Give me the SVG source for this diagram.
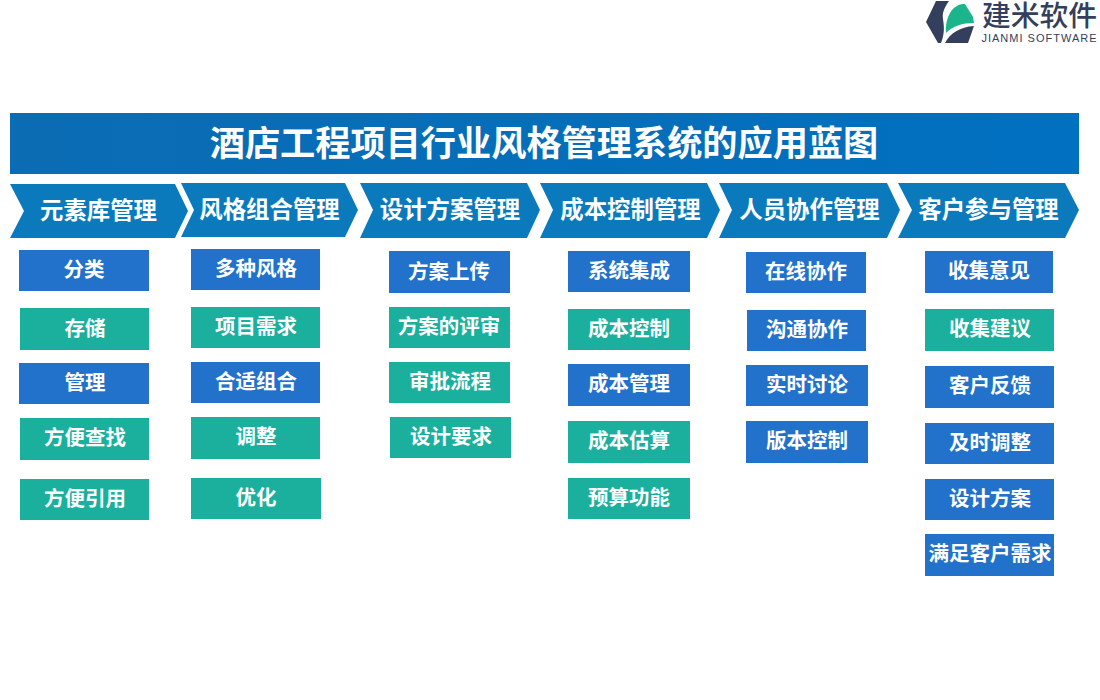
<svg xmlns="http://www.w3.org/2000/svg" width="1100" height="700" viewBox="0 0 1100 700">
<defs>
<linearGradient id="tg" x1="0" y1="0" x2="1" y2="0"><stop offset="0" stop-color="#0b6cb3"/><stop offset="1" stop-color="#0070c0"/></linearGradient>
<style>
text{font-family:"Noto Sans CJK SC","Liberation Sans",sans-serif;font-weight:700;fill:#fff;text-anchor:middle}
.t{font-size:35.2px}
.h{font-size:23.4px}
.i{font-size:20.5px}
.c{fill:#0b7abd}
.b{fill:#2272cc}
.g{fill:#1bb09d}
</style>
</defs>
<rect width="1100" height="700" fill="#fff"/>
<g id="logo">
<path d="M936 1H949C944 8 942 13 943 19C944 26 945 33 941 43H938L926 22Z" fill="#333f5c"/>
<path d="M946 33C945 22 949 10 957 6C960 4 963 4 965 4L973 17L974 23C962 23 953 26 946 33Z" fill="#1bb58c"/>
<path d="M945 43C950 33 960 27 974 26L968 43Z" fill="#333f5c"/>
<text x="1039.500" y="26" style="font-size:28.800px;font-weight:500;fill:#333f5c">建米软件</text>
<text x="1039.500" y="42" style="font-size:11px;font-weight:400;fill:#333f5c;font-family:'Liberation Sans',sans-serif;letter-spacing:1px">JIANMI SOFTWARE</text>
</g>
<g id="title"><rect x="10" y="113" width="1069" height="61" fill="url(#tg)"/><text class="t" x="544" y="155.500">酒店工程项目行业风格管理系统的应用蓝图</text></g>
<g id="headers">
<g id="h1"><polygon class="c" points="10,184 175,184 188,211 175,238 10,238 24,211"/><text class="h" x="98.500" y="219">元素库管理</text></g>
<g id="h2"><polygon class="c" points="181,183 345,183 358,210 345,237 181,237 194,210"/><text class="h" x="269.500" y="218">风格组合管理</text></g>
<g id="h3"><polygon class="c" points="360,183 527,183 540,210 527,238 360,238 373,210"/><text class="h" x="450" y="218">设计方案管理</text></g>
<g id="h4"><polygon class="c" points="540,183 707,183 720,210 707,238 540,238 553,210"/><text class="h" x="630.500" y="218">成本控制管理</text></g>
<g id="h5"><polygon class="c" points="719,183 887,183 900,210 887,238 719,238 732,210"/><text class="h" x="809.500" y="218">人员协作管理</text></g>
<g id="h6"><polygon class="c" points="898,183 1065,183 1079,210 1065,238 898,238 912,210"/><text class="h" x="988.500" y="218">客户参与管理</text></g>
</g>
<g id="col1">
<g id="n11"><rect class="b" x="19" y="250" width="130" height="41"/><text class="i" x="84" y="277">分类</text></g>
<g id="n12"><rect class="g" x="20" y="308" width="129" height="42"/><text class="i" x="85" y="336">存储</text></g>
<g id="n13"><rect class="b" x="19" y="363" width="130" height="41"/><text class="i" x="85" y="390">管理</text></g>
<g id="n14"><rect class="g" x="20" y="418" width="129" height="42"/><text class="i" x="85" y="445">方便查找</text></g>
<g id="n15"><rect class="g" x="20" y="479" width="129" height="41"/><text class="i" x="85" y="506">方便引用</text></g>
</g>
<g id="col2">
<g id="n21"><rect class="b" x="191" y="249" width="129" height="41"/><text class="i" x="256" y="276">多种风格</text></g>
<g id="n22"><rect class="g" x="191" y="307" width="129" height="41"/><text class="i" x="256" y="334">项目需求</text></g>
<g id="n23"><rect class="b" x="191" y="362" width="129" height="41"/><text class="i" x="256" y="389">合适组合</text></g>
<g id="n24"><rect class="g" x="191" y="417" width="129" height="42"/><text class="i" x="256" y="444">调整</text></g>
<g id="n25"><rect class="g" x="191" y="478" width="130" height="41"/><text class="i" x="256" y="505">优化</text></g>
</g>
<g id="col3">
<g id="n31"><rect class="b" x="389" y="251" width="121" height="42"/><text class="i" x="449" y="279">方案上传</text></g>
<g id="n32"><rect class="g" x="389" y="307" width="121" height="41"/><text class="i" x="449" y="334">方案的评审</text></g>
<g id="n33"><rect class="g" x="389" y="362" width="121" height="41"/><text class="i" x="450" y="389">审批流程</text></g>
<g id="n34"><rect class="g" x="390" y="417" width="121" height="41"/><text class="i" x="451" y="444">设计要求</text></g>
</g>
<g id="col4">
<g id="n41"><rect class="b" x="568" y="251" width="122" height="41"/><text class="i" x="629" y="278">系统集成</text></g>
<g id="n42"><rect class="g" x="568" y="309" width="122" height="41"/><text class="i" x="629" y="336">成本控制</text></g>
<g id="n43"><rect class="b" x="568" y="364" width="122" height="42"/><text class="i" x="629" y="391">成本管理</text></g>
<g id="n44"><rect class="g" x="568" y="421" width="122" height="42"/><text class="i" x="629" y="448">成本估算</text></g>
<g id="n45"><rect class="g" x="568" y="478" width="122" height="41"/><text class="i" x="629" y="505">预算功能</text></g>
</g>
<g id="col5">
<g id="n51"><rect class="b" x="746" y="252" width="120" height="41"/><text class="i" x="806" y="279">在线协作</text></g>
<g id="n52"><rect class="b" x="747" y="310" width="119" height="41"/><text class="i" x="807" y="337">沟通协作</text></g>
<g id="n53"><rect class="b" x="746" y="365" width="122" height="41"/><text class="i" x="807" y="392">实时讨论</text></g>
<g id="n54"><rect class="b" x="746" y="421" width="122" height="42"/><text class="i" x="807" y="448">版本控制</text></g>
</g>
<g id="col6">
<g id="n61"><rect class="b" x="925" y="251" width="128" height="42"/><text class="i" x="989" y="278">收集意见</text></g>
<g id="n62"><rect class="g" x="925" y="309" width="129" height="42"/><text class="i" x="990" y="336">收集建议</text></g>
<g id="n63"><rect class="b" x="925" y="366" width="129" height="42"/><text class="i" x="990" y="393">客户反馈</text></g>
<g id="n64"><rect class="b" x="925" y="423" width="129" height="41"/><text class="i" x="990" y="450">及时调整</text></g>
<g id="n65"><rect class="b" x="925" y="479" width="129" height="41"/><text class="i" x="990" y="506">设计方案</text></g>
<g id="n66"><rect class="b" x="925" y="534" width="129" height="42"/><text class="i" x="990" y="561">满足客户需求</text></g>
</g>
</svg>
